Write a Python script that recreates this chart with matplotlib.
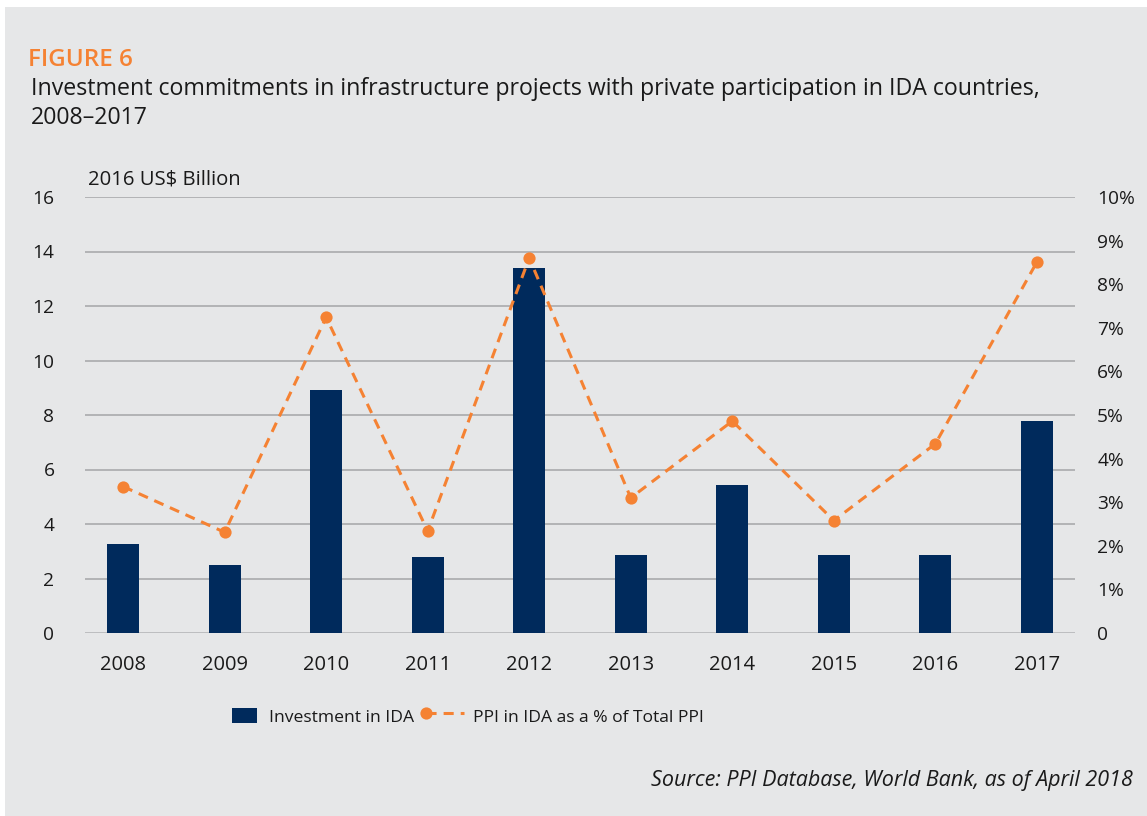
import matplotlib
matplotlib.use("Agg")
import matplotlib.pyplot as plt
from matplotlib.lines import Line2D
from matplotlib.patches import Rectangle

# ---- data ----
years = ["2008", "2009", "2010", "2011", "2012", "2013", "2014", "2015", "2016", "2017"]
investment = [3.25, 2.5, 8.92, 2.8, 13.4, 2.87, 5.43, 2.87, 2.87, 7.78]   # 2016 US$ bn
ppi_share = [3.36, 2.31, 7.24, 2.34, 8.6, 3.1, 4.86, 2.58, 4.34, 8.51]    # % of total PPI
left_ticks = [0, 2, 4, 6, 8, 10, 12, 14, 16]
right_ticks = [0, 1, 2, 3, 4, 5, 6, 7, 8, 9, 10]
right_labels = ["0"] + [f"{v}%" for v in right_ticks[1:]]

NAVY = "#002a5c"
ORANGE = "#f58233"
PANEL = "#e6e7e8"
GRID = "#a9aaac"
TEXT = "#1a1a1a"

plt.rcParams["font.family"] = ["Open Sans", "DejaVu Sans"]

W, H = 1147, 816
fig = plt.figure(figsize=(W / 100, H / 100), dpi=100, facecolor="white")

# grey panel behind everything
fig.patches.append(Rectangle((5 / W, 0), 1 - 5 / W, 1 - 7 / H, transform=fig.transFigure,
                             facecolor=PANEL, edgecolor="none", zorder=-10))

ax = fig.add_axes([85 / W, 1 - 633 / H, (1075 - 85) / W, (633 - 197) / H])
ax.set_facecolor("none")
x = list(range(len(years)))

ax.bar(x, investment, width=0.315, color=NAVY, zorder=3)
ax.set_ylim(0, 16)
ax.set_xlim(-0.375, len(years) - 1 + 0.375)
ax.set_yticks(left_ticks)
ax.set_yticklabels([str(t) for t in left_ticks])
ax.set_xticks(x)
ax.set_xticklabels(years)
for t in left_ticks:
    if t == 0:
        ax.axhline(t, color="#b9babc", lw=2.0, zorder=1)
    else:
        ax.axhline(t, color=GRID, lw=1.2, zorder=1)
for s in ax.spines.values():
    s.set_visible(False)
ax.tick_params(axis="y", length=0, pad=22, labelsize=13.8, labelcolor=TEXT)
ax.tick_params(axis="x", length=0, pad=16, labelsize=14.5, labelcolor=TEXT)

ax2 = ax.twinx()
ax2.set_ylim(0, 10)
ax2.plot(x, ppi_share, color=ORANGE, lw=2.2, ls=(0, (3.3, 2.3)),
         marker="o", markersize=8.8, markeredgewidth=0, zorder=4)
ax2.set_yticks(right_ticks)
ax2.set_yticklabels(right_labels)
for s in ax2.spines.values():
    s.set_visible(False)
ax2.tick_params(axis="y", length=0, pad=16, labelsize=13.8, labelcolor=TEXT)

# titles
fig.text(28 / W, 1 - 66 / H, "FIGURE 6", color=ORANGE, fontsize=17.5, fontweight="semibold",
         ha="left", va="baseline")
fig.text(31 / W, 1 - 95 / H,
         "Investment commitments in infrastructure projects with private participation in IDA countries,",
         color=TEXT, fontsize=16.7, ha="left", va="baseline")
fig.text(31 / W, 1 - 124 / H, "2008\u20132017", color=TEXT, fontsize=16.7, ha="left", va="baseline")
fig.text(88 / W, 1 - 184 / H, "2016 US$ Billion", color=TEXT, fontsize=14.6, ha="left", va="baseline")
fig.text(1133 / W, 1 - 786 / H, "Source: PPI Database, World Bank, as of April 2018",
         color=TEXT, fontsize=15.5, style="italic", ha="right", va="baseline")


# legend: dot just left of a short dashed line
class DotDashHandler:
    def legend_artist(self, legend, orig, fontsize, handlebox):
        x0, y0 = handlebox.xdescent, handlebox.ydescent
        w, h = handlebox.width, handlebox.height
        tr = handlebox.get_transform()
        line = Line2D([x0 - 7, x0 + 20], [y0 + h / 2] * 2, color=ORANGE, lw=2.2,
                      ls=(0, (3.3, 2.3)), transform=tr)
        dot = Line2D([x0 - 7], [y0 + h / 2], marker="o", markersize=8.8, color=ORANGE,
                     markeredgewidth=0, transform=tr)
        handlebox.add_artist(line)
        handlebox.add_artist(dot)
        return line


bar_handle = Rectangle((0, 0), 1, 1, facecolor=NAVY)
line_handle = Line2D([], [], color=ORANGE)
fig.legend([bar_handle, line_handle], ["Investment in IDA", "PPI in IDA as a % of Total PPI"],
           handler_map={Line2D: DotDashHandler()},
           loc="center left", bbox_to_anchor=(232 / W, 1 - 717 / H), ncol=2, frameon=False,
           borderpad=0, borderaxespad=0, fontsize=12.6,
           handlelength=1.43, handleheight=0.95, handletextpad=0.68,
           columnspacing=1.25, labelcolor=TEXT)

fig.savefig("out.png", dpi=100, facecolor="white")
